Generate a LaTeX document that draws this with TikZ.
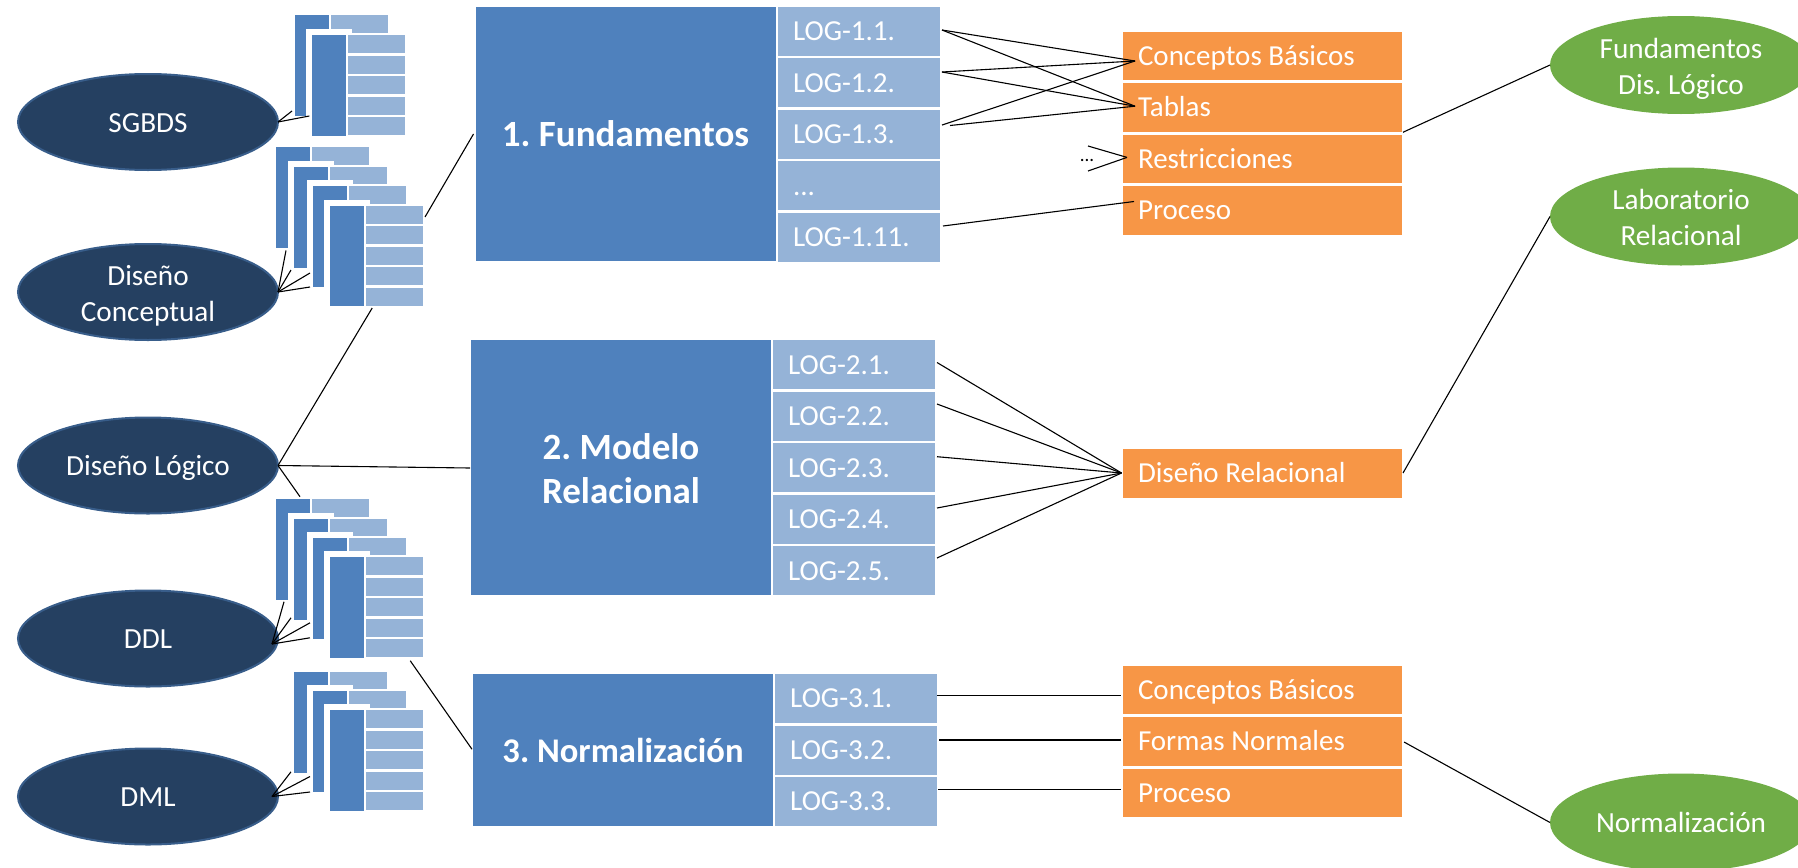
\documentclass[tikz,border=0pt]{standalone}
\usepackage{fontspec}
\setmainfont{Carlito}
\usepackage{tikz}
\usetikzlibrary{shapes.geometric}
\frenchspacing
\definecolor{bigblue}{HTML}{4F81BD}
\definecolor{lightblue}{HTML}{95B3D7}
\definecolor{mainorange}{HTML}{F79646}
\definecolor{mainnavy}{HTML}{254061}
\definecolor{navyedge}{HTML}{385D8A}
\definecolor{maingreen}{HTML}{70AD47}
\tikzstyle{bigbox} = [rectangle, fill=bigblue, text=white, font=\fontsize{18.5}{22}\bfseries\selectfont,
    minimum width=150pt, align=flush center, inner sep=0pt, outer sep=0pt,
    text height=15pt, text depth=2.4pt]
\tikzstyle{logbox} = [rectangle, fill=lightblue, text=white, font=\fontsize{14.5}{23.5}\selectfont,
    minimum width=81pt, minimum height=24.5pt, text width=66pt, align=flush left,
    inner xsep=7.5pt, inner ysep=0pt, outer sep=0pt, execute at begin node=\strut]
\tikzstyle{topicbox} = [rectangle, fill=mainorange, text=white, font=\fontsize{14.5}{23.5}\selectfont,
    minimum width=139.5pt, minimum height=24.25pt, text width=124.5pt, align=flush left,
    inner xsep=7.5pt, inner ysep=0pt, outer sep=0pt, execute at begin node=\strut]
\tikzstyle{unit} = [ellipse, fill=mainnavy, draw=navyedge, line width=1pt, text=white,
    minimum width=130pt, minimum height=48pt, inner sep=0pt, outer sep=0pt, align=flush center,
    font=\fontsize{14.6}{18}\selectfont, text height=13pt, text depth=3pt]
\tikzstyle{lab} = [ellipse, fill=maingreen, text=white, minimum width=131pt, minimum height=49pt,
    inner sep=0pt, outer sep=0pt, align=flush center, font=\fontsize{14.6}{18}\selectfont,
    text height=13pt, text depth=3pt]
\tikzstyle{twolines} = [text height=31.4pt, text depth=2pt]
\tikzstyle{twobold} = [text height=40.8pt, text depth=5pt]
\tikzstyle{cardbox} = [rectangle, fill=bigblue, draw=white, line width=3pt,
    minimum width=20pt, minimum height=53.25pt, inner sep=0pt, outer sep=0pt]
\tikzstyle{cardrow} = [rectangle, fill=lightblue, draw=white, line width=1pt,
    minimum width=29.5pt, minimum height=10pt, inner sep=0pt, outer sep=0pt]
\tikzstyle{edge} = [draw, line width=.55pt]
% one small card of a stack, by its top left corner
\newcommand{\stackcard}[3]{%
  \node [cardbox] (#1) at (#2+17,#3+50.25) {};
  \foreach \n in {1,...,5}
    \node [cardrow] (#1r\n) at (#2+64.5,#3+9+\n*20.5-20.5) {};
}
\begin{document}
\begin{tikzpicture}[x=.5pt, y=-.5pt, node distance=25.75pt]
  \useasboundingbox (0,0) rectangle (1798,867);
  \clip (0,0) rectangle (1798,867);
  % Place units
  \node [unit] (sgbds) at (148,122) {SGBDS};
  \node [unit, twolines] (conc) at (148,292) {Diseño\\Conceptual};
  \node [unit] (logico) at (148,465.5) {Diseño Lógico};
  \node [unit] (ddl) at (148,638.5) {DDL};
  \node [unit] (dml) at (148,796.5) {DML};
  % Place stacks of cards
  \stackcard{sgA}{295}{15}
  \stackcard{sgB}{312}{35}
  \stackcard{concA}{276}{147}
  \stackcard{concB}{293.5}{167}
  \stackcard{concC}{312.7}{186}
  \stackcard{concD}{329.7}{205.5}
  \stackcard{ddlA}{276}{499.3}
  \stackcard{ddlB}{293.5}{519.3}
  \stackcard{ddlC}{312.7}{538.3}
  \stackcard{ddlD}{329.7}{557.3}
  \stackcard{dmlA}{293.5}{672.3}
  \stackcard{dmlB}{312.7}{691}
  \stackcard{dmlC}{329.7}{710}
  % Place blocks
  \node [bigbox, minimum height=127pt] (fund) at (625.5,134) {1. Fundamentos};
  \node [logbox] (log11) at (859,31.25) {LOG-1.1.};
  \node [logbox, below of=log11] (log12) {LOG-1.2.};
  \node [logbox, below of=log12] (log13) {LOG-1.3.};
  \node [logbox, below of=log13] (logdots) {...};
  \node [logbox, below of=logdots] (log111) {LOG-1.11.};
  \node [bigbox, twobold, minimum height=127.5pt] (model) at (621,467.5) {2. Modelo\\Relacional};
  \node [logbox] (log21) at (854,364.7) {LOG-2.1.};
  \node [logbox, below of=log21] (log22) {LOG-2.2.};
  \node [logbox, below of=log22] (log23) {LOG-2.3.};
  \node [logbox, below of=log23] (log24) {LOG-2.4.};
  \node [logbox, below of=log24] (log25) {LOG-2.5.};
  \node [bigbox, font=\fontsize{17.3}{22}\bfseries\selectfont, minimum height=75.75pt] (norm) at (623,749.75) {3. Normalización};
  \node [logbox] (log31) at (856.2,698.5) {LOG-3.1.};
  \node [logbox, below of=log31] (log32) {LOG-3.2.};
  \node [logbox, below of=log32] (log33) {LOG-3.3.};
  % Place topics
  \node [topicbox] (basics) at (1262.5,56) {Conceptos Básicos};
  \node [topicbox, below of=basics] (tablas) {Tablas};
  \node [topicbox, below of=tablas] (restr) {Restricciones};
  \node [topicbox, below of=restr] (proc) {Proceso};
  \node [font=\fontsize{9.5}{11}\selectfont, inner sep=0pt] (dots) at (1087,160) {...};
  \node [topicbox] (disrel) at (1262.5,473.5) {Diseño Relacional};
  \node [topicbox] (basicsb) at (1262.5,690) {Conceptos Básicos};
  \node [topicbox, below of=basicsb] (formas) {Formas Normales};
  \node [topicbox, below of=formas] (procb) {Proceso};
  % Place labs
  \node [lab, twolines] (labfund) at (1681,65) {Fundamentos\\Dis. Lógico};
  \node [lab, twolines] (labrel) at (1681,216.5) {Laboratorio\\Relacional};
  \node [lab] (labnorm) at (1681,822.5) {Normalización};
  % Draw edges from stacks to units
  \path[edge] ([shift={(0,-7.5)}]sgA.south west) -- (sgbds.east);
  \path[edge] ([shift={(.3,-22.5)}]sgB.south west) -- (sgbds.east);
  \path[edge] ([shift={(13,0)}]concA.south west) -- (conc.east);
  \path[edge] ([shift={(.5,-.5)}]concB.south west) -- (conc.east);
  \path[edge] ([shift={(.3,-16.5)}]concC.south west) -- (conc.east);
  \path[edge] ([shift={(.3,-2.5)}]concC.south west) -- (conc.east);
  \path[edge] ([shift={(11,-1)}]ddlA.south west) -- ([shift={(-6,5.5)}]ddl.east);
  \path[edge] ([shift={(.5,-5)}]ddlB.south west) -- ([shift={(-6,5.5)}]ddl.east);
  \path[edge] ([shift={(.3,-19)}]ddlC.south west) -- ([shift={(-6,5.5)}]ddl.east);
  \path[edge] ([shift={(.3,-4)}]ddlC.south west) -- ([shift={(-6,5.5)}]ddl.east);
  \path[edge] ([shift={(.5,-4)}]dmlA.south west) -- ([shift={(-6,0)}]dml.east);
  \path[edge] ([shift={(.3,-18)}]dmlB.south west) -- ([shift={(-6,0)}]dml.east);
  \path[edge] ([shift={(.3,-2.5)}]dmlB.south west) -- ([shift={(-6,0)}]dml.east);
  % Draw edges around the central unit
  \path[edge] (logico.east) -- ([shift={(-22,1.5)}]concDr5.south);
  \path[edge] (logico.east) -- ([shift={(7,.4)}]ddlA.north);
  \path[edge] (logico.east) -- ([shift={(-1,.5)}]model.west);
  \path[edge] ([shift={(1.3,2.5)}]concDr1.east) -- ([shift={(-2,0)}]fund.west);
  \path[edge] ([shift={(16,2.4)}]ddlDr5.south) -- ([shift={(-1,-.5)}]norm.west);
  % Draw edges from outcomes to topics
  \path[edge] ([shift={(2,-1.25)}]log11.east) -- ([shift={(12,5)}]basics.west);
  \path[edge] ([shift={(2,-1.25)}]log11.east) -- ([shift={(12,-1.3)}]tablas.west);
  \path[edge] ([shift={(2,-10.75)}]log12.east) -- ([shift={(12,5)}]basics.west);
  \path[edge] ([shift={(2,-10.75)}]log12.east) -- ([shift={(12,-1.3)}]tablas.west);
  \path[edge] ([shift={(2,-9.25)}]log13.east) -- ([shift={(12,5)}]basics.west);
  \path[edge] ([shift={(10,-8.75)}]log13.east) -- ([shift={(12,-1.3)}]tablas.west);
  \path[edge] ([shift={(1,-14)}]dots.center) -- ([shift={(4,-1.6)}]restr.west);
  \path[edge] ([shift={(1,11)}]dots.center) -- ([shift={(4,-1.6)}]restr.west);
  \path[edge] ([shift={(3,-11.25)}]log111.east) -- ([shift={(11,-9)}]proc.west);
  \path[edge] ([shift={(2,-2.2)}]log21.east) -- ([shift={(-1.5,-.5)}]disrel.west);
  \path[edge] ([shift={(2,-12.2)}]log22.east) -- ([shift={(-1.5,-.5)}]disrel.west);
  \path[edge] ([shift={(2,-11)}]log23.east) -- ([shift={(-1.5,-.5)}]disrel.west);
  \path[edge] ([shift={(2,-11.2)}]log24.east) -- ([shift={(-1.5,-.5)}]disrel.west);
  \path[edge] ([shift={(2,-12.7)}]log25.east) -- ([shift={(-1.5,-.5)}]disrel.west);
  \path[edge] ([shift={(0,-3.1)}]log31.east) -- ([shift={(-2.5,5.4)}]basicsb.west);
  \path[edge] ([shift={(2,-10)}]log32.east) -- ([shift={(-2.5,-1.5)}]formas.west);
  \path[edge] ([shift={(1,-11.8)}]log33.east) -- ([shift={(-2.5,-3.3)}]procb.west);
  % Draw edges from topics to labs
  \path[edge] ([shift={(1,.5)}]tablas.south east) -- (labfund.west);
  \path[edge] ([shift={(1,-.5)}]disrel.east) -- (labrel.west);
  \path[edge] ([shift={(2,.5)}]formas.east) -- (labnorm.west);
\end{tikzpicture}
\end{document}
